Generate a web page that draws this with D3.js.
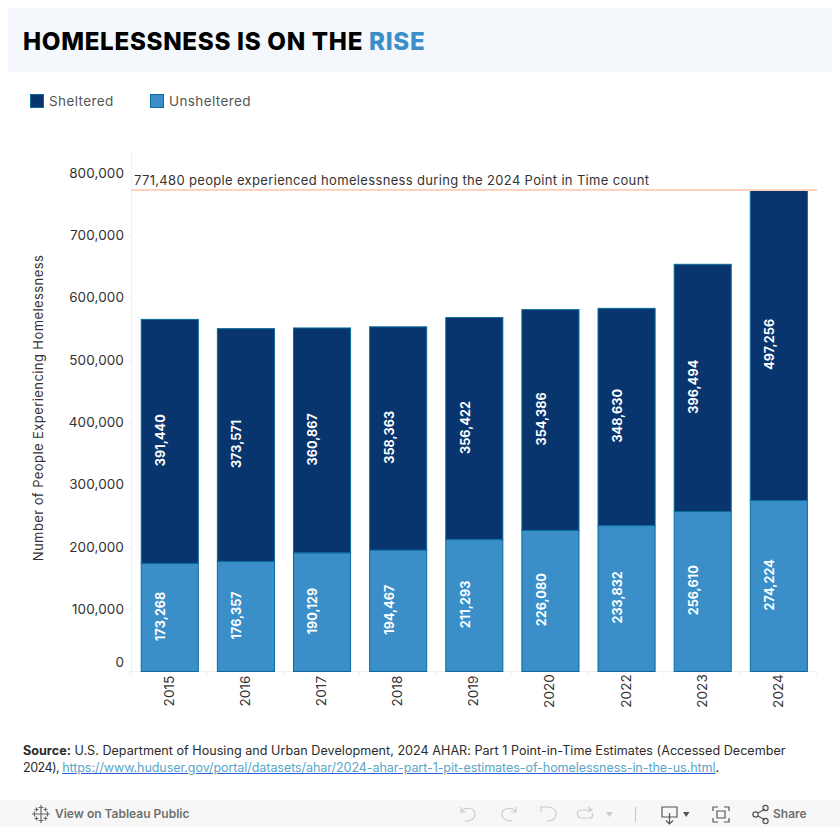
<!DOCTYPE html>
<html>
<head>
<meta charset="utf-8">
<script src="https://cdnjs.cloudflare.com/ajax/libs/d3/7.8.5/d3.min.js"></script>
<style>
html, body { margin: 0; padding: 0; background: #fff; overflow: hidden; }
body { width: 840px; height: 827px; position: relative; font-family: Inter, sans-serif; }
svg { position: absolute; left: 0; top: 0; }
text { font-family: Inter, sans-serif; }
.source { position: absolute; left: 23px; top: 742px; width: 800px; font-size: 12.6px; line-height: 17px; color: #2b2b2b; letter-spacing: .02px; white-space: nowrap; }
.source .tight { letter-spacing: -.55px; }
.source a { color: #5aa5c8; letter-spacing: -.1px; text-decoration: underline; text-decoration-color: #2a5fd8; }
.axis .domain, .axis line { stroke: #f0f0f0; }
.axis text { fill: #333; font-size: 13.5px; letter-spacing: .1px; }
</style>
</head>
<body>
<svg class="chart" width="840" height="827"></svg>
<div class="source"><b>Source:</b> U.S. Department of Housing and Urban Development, 2024 AHAR: Part 1 Point-in-Time Estimates (Accessed December<br><span class="tight">2024), </span><a href="#">https://www.huduser.gov/portal/datasets/ahar/2024-ahar-part-1-pit-estimates-of-homelessness-in-the-us.html</a>.</div>
<script>
const years = ["2015", "2016", "2017", "2018", "2019", "2020", "2022", "2023", "2024"];
const unsheltered = [173268, 176357, 190129, 194467, 211293, 226080, 233832, 256610, 274224];
const sheltered = [391440, 373571, 360867, 358363, 356422, 354386, 348630, 396494, 497256];
const yTicks = [0, 100000, 200000, 300000, 400000, 500000, 600000, 700000, 800000];
const totalCount = 771480;

const darkBlue = "#08356e";
const lightBlue = "#3b8fc9";
const barStroke = "#0a6d9e";

const svg = d3.select("svg.chart");
const plot = { l: 131, r: 817, t: 150, b: 671 };

const xScale = d3.scaleBand().domain(years).range([plot.l + 0.7, plot.r - 0.1]).paddingInner(0.25).paddingOuter(0.125);
const yScale = d3.scaleLinear().domain([0, totalCount]).range([plot.b + 0.5, 190.5]);
const fmt = d3.format(",");

// header
svg.append("rect").attr("x", 8).attr("y", 8).attr("width", 824).attr("height", 64).attr("fill", "#f4f8fc");
const title = svg.append("text").attr("x", 23).attr("y", 49.5)
	.attr("font-size", 24.2).attr("font-weight", 800).attr("letter-spacing", 0.68).attr("fill", "#000");
title.append("tspan").text("HOMELESSNESS IS ON THE ");
title.append("tspan").attr("fill", lightBlue).text("RISE");

// legend
const legend = [["Sheltered", darkBlue, 30], ["Unsheltered", lightBlue, 150]];
legend.forEach((d) => {
	svg.append("rect").attr("x", d[2] + 0.5).attr("y", 94.5).attr("width", 13).attr("height", 13)
		.attr("fill", d[1]).attr("stroke", barStroke);
	svg.append("text").attr("x", d[2] + 19).attr("y", 106).attr("font-size", 13.5)
		.attr("letter-spacing", 0.4).attr("fill", "#555").text(d[0]);
});

// axes
const yAxis = svg.append("g").attr("class", "axis").attr("transform", `translate(${plot.l},0)`)
	.call(d3.axisLeft(yScale).tickValues(yTicks).tickFormat(fmt).tickSize(4).tickPadding(3).tickSizeOuter(0));
yAxis.select(".domain").attr("d", `M0.5,${plot.t}V${plot.b}`);
yAxis.selectAll(".tick text").attr("dy", "0.32em");
yAxis.selectAll(".tick text").filter((d) => d === 0).attr("dy", "-0.35em");

const xAxis = svg.append("g").attr("class", "axis").attr("transform", `translate(0,${plot.b})`)
	.call(d3.axisBottom(xScale).tickSize(0).tickSizeOuter(0));
xAxis.select(".domain").attr("d", `M${plot.l},0.5H${plot.r}`);
xAxis.selectAll(".tick text")
	.attr("transform", "rotate(-90)")
	.attr("text-anchor", "middle")
	.attr("x", -20)
	.attr("y", 0)
	.attr("dy", "0.3em");
xAxis.selectAll("line.cell")
	.data(d3.range(years.length + 1))
	.join("line")
	.attr("class", "cell")
	.attr("x1", (d) => plot.l + d * xScale.step())
	.attr("x2", (d) => plot.l + d * xScale.step())
	.attr("y1", 0)
	.attr("y2", 5);

svg.append("text")
	.attr("transform", `translate(43,408) rotate(-90)`)
	.attr("text-anchor", "middle")
	.attr("font-size", 13)
	.attr("letter-spacing", 0.42)
	.attr("fill", "#333")
	.text("Number of People Experiencing Homelessness");

// bars
const barData = years.map((y, i) => ({ year: y, u: unsheltered[i], s: sheltered[i] }));
const bars = svg.append("g").selectAll("g").data(barData).join("g");

bars.append("rect")
	.attr("x", (d) => xScale(d.year))
	.attr("y", (d) => yScale(d.u + d.s))
	.attr("width", xScale.bandwidth())
	.attr("height", (d) => yScale(d.u) - yScale(d.u + d.s))
	.attr("fill", darkBlue)
	.attr("stroke", barStroke)
	.attr("stroke-width", 1);

bars.append("rect")
	.attr("x", (d) => xScale(d.year))
	.attr("y", (d) => yScale(d.u))
	.attr("width", xScale.bandwidth())
	.attr("height", (d) => yScale(0) - yScale(d.u))
	.attr("fill", lightBlue)
	.attr("stroke", barStroke)
	.attr("stroke-width", 1);

// value labels sit left of the bar centre, same as the original
function barLabel(sel, yPos, val) {
	sel.append("text")
		.attr("transform", (d) => `translate(${xScale(d.year) + xScale.bandwidth() / 2 - 9},${yPos(d) - 1.2}) rotate(-90)`)
		.attr("text-anchor", "middle")
		.attr("dy", "0.35em")
		.attr("font-size", 12.6)
		.attr("font-weight", 700)
		.attr("letter-spacing", 0.05)
		.attr("fill", "#fff")
		.text((d) => fmt(val(d)));
}
barLabel(bars, (d) => yScale(d.u / 2), (d) => d.u);
barLabel(bars, (d) => yScale(d.u + d.s / 2), (d) => d.s);

// reference line
svg.append("line")
	.attr("x1", plot.l).attr("x2", plot.r)
	.attr("y1", yScale(totalCount) - 0.5).attr("y2", yScale(totalCount) - 0.5)
	.attr("stroke", "#fdd3c0").attr("stroke-width", 2);
svg.append("text").attr("x", 134).attr("y", 185).attr("font-size", 13)
	.attr("letter-spacing", 0.335).attr("fill", "#333")
	.text(`${fmt(totalCount)} people experienced homelessness during the 2024 Point in Time count`);

// toolbar
const bar = svg.append("g");
bar.append("rect").attr("x", 0).attr("y", 800).attr("width", 840).attr("height", 27).attr("fill", "#f7f7f7");
const logo = bar.append("g").attr("transform", "translate(41,814)").attr("stroke", "#666").attr("stroke-width", 1.2);
[[0, 0, 4], [0, -6.5, 2.5], [0, 6.5, 2.5], [-6.5, 0, 2.5], [6.5, 0, 2.5], [-4.5, -4.5, 2], [4.5, -4.5, 2], [-4.5, 4.5, 2], [4.5, 4.5, 2]].forEach((c) => {
	logo.append("path").attr("d", `M${c[0] - c[2]},${c[1]}H${c[0] + c[2]}M${c[0]},${c[1] - c[2]}V${c[1] + c[2]}`);
});
bar.append("text").attr("x", 55).attr("y", 818).attr("font-size", 12).attr("font-weight", 600).attr("fill", "#707070").text("View on Tableau Public");
bar.append("text").attr("x", 773).attr("y", 818).attr("font-size", 12).attr("font-weight", 600).attr("fill", "#707070").text("Share");

const icons = bar.append("g").attr("fill", "none").attr("stroke-width", 1.2);
icons.append("path").attr("stroke", "#ccc").attr("d", "M461,807V812H466M461,812C465,806 475,808 475,814C475,819 470,821 465,821");
icons.append("path").attr("stroke", "#ccc").attr("d", "M516,807V812H511M516,812C512,806 502,808 502,814C502,819 507,821 512,821");
icons.append("path").attr("stroke", "#ccc").attr("d", "M541,806V812M541,807H547C553,807 556,810 556,814C556,819 552,821 547,821");
icons.append("path").attr("stroke", "#ccc").attr("d", "M592,810H582C576,810 576,818 582,818H590C593,818 593,815 592,813M588,807L592,810L588,812");
icons.append("path").attr("stroke", "#ccc").attr("d", "M635.5,807V822");
icons.append("path").attr("stroke", "#555").attr("d", "M662,807H677V817H662ZM669.5,813V824M666,820.5L669.5,824L673,820.5");
icons.append("path").attr("stroke", "#555").attr("d", "M713,811V807H718M724,807H729V811M729,818V822H724M718,822H713V818M717,811H725V818H717Z");
icons.append("path").attr("stroke", "#555").attr("d", "M758,813L765,809M758,816L765,820");
[[755.5, 814.5], [765.5, 808], [765.5, 821]].forEach((c) => {
	icons.append("circle").attr("cx", c[0]).attr("cy", c[1]).attr("r", 2.6).attr("stroke", "#555");
});
bar.append("path").attr("fill", "#ccc").attr("d", "M606,812H613L609.5,817Z");
bar.append("path").attr("fill", "#555").attr("d", "M683,812H689.5L686.2,817Z");
</script>
</body>
</html>
